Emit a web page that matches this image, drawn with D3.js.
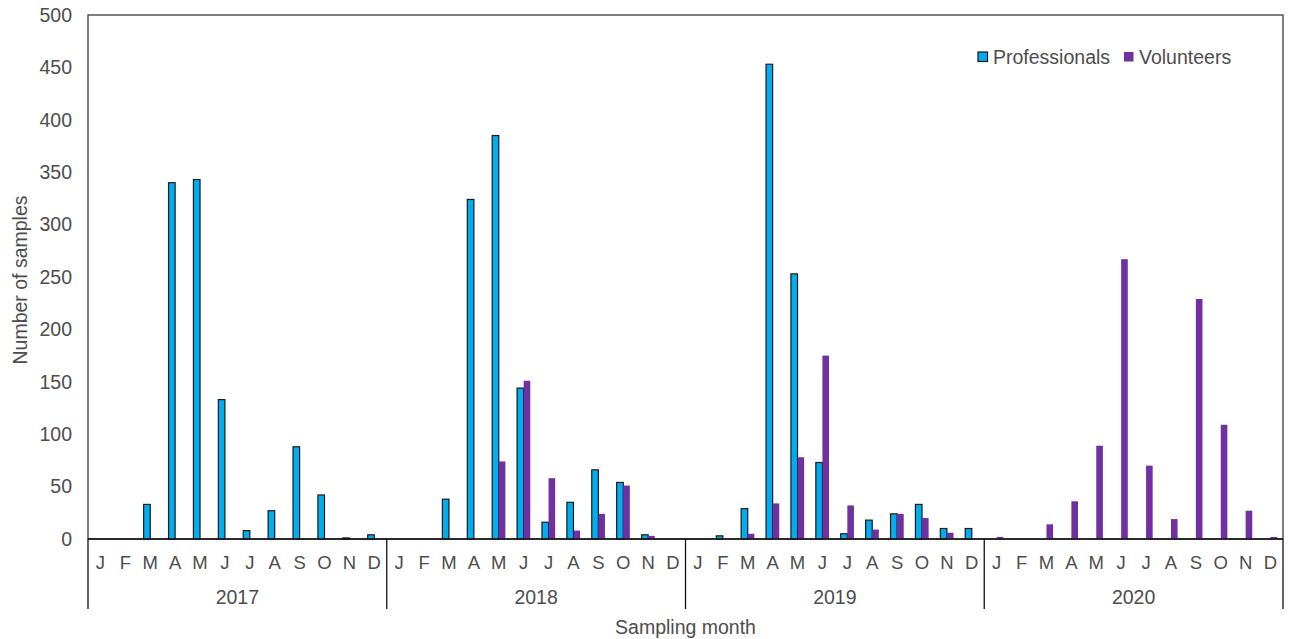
<!DOCTYPE html>
<html>
<head>
<meta charset="utf-8">
<script src="https://cdn.jsdelivr.net/npm/d3@7"></script>
<style>
  html, body { margin: 0; padding: 0; background: #fff; }
  svg text { font-family: "Liberation Sans", Arial, sans-serif; fill: #4d4d4d; }
</style>
</head>
<body>
<svg id="chart" width="1290" height="639"></svg>
<script>
const months = ["J","F","M","A","M","J","J","A","S","O","N","D"];
const years = ["2017","2018","2019","2020"];
const seriesNames = ["Professionals","Volunteers"];
const yTicks = [0,50,100,150,200,250,300,350,400,450,500];

const professionals = [
  0, 0, 33, 340, 343, 133, 8, 27, 88, 42, 1, 4,      // 2017
  0, 0, 38, 324, 385, 144, 16, 35, 66, 54, 4, 0,     // 2018
  0, 3, 29, 453, 253, 73, 5, 18, 24, 33, 10, 10,     // 2019
  0, 0, 0, 0, 0, 0, 0, 0, 0, 0, 0, 0                 // 2020
];
const volunteers = [
  0, 0, 0, 0, 0, 0, 0, 0, 0, 0, 0, 0,                // 2017
  0, 0, 0, 0, 74, 151, 58, 8, 24, 51, 3, 0,          // 2018
  0, 0, 5, 34, 78, 175, 32, 9, 24, 20, 6, 0,         // 2019
  2, 0, 14, 36, 89, 267, 70, 19, 229, 109, 27, 2     // 2020
];

const colors = { Professionals: "#00AEEF", Volunteers: "#7030A0" };

const svg = d3.select("#chart");
const m = { left: 88, right: 1283, top: 15, bottom: 539 };

const keys = [];
years.forEach(yr => months.forEach((mo, i) => keys.push(yr + "-" + i)));
const rows = keys.map((k, i) => ({
  key: k, month: months[i % 12],
  Professionals: professionals[i], Volunteers: volunteers[i]
}));

const x0 = d3.scaleBand().domain(keys).range([m.left, m.right])
  .paddingInner(0.47).paddingOuter(0.235);
const x1 = d3.scaleBand().domain(seriesNames).range([0, x0.bandwidth()]).padding(0);
const xYear = d3.scaleBand().domain(years).range([m.left, m.right]).padding(0);
const y = d3.scaleLinear().domain([0, 500]).range([m.bottom, m.top]);

// Plot frame
svg.append("rect")
  .attr("x", m.left).attr("y", m.top)
  .attr("width", m.right - m.left).attr("height", m.bottom - m.top)
  .attr("fill", "none").attr("stroke", "#3a3a3a").attr("stroke-width", 1.3);

// Y axis labels
const yAxis = svg.append("g").attr("transform", `translate(${m.left},0)`)
  .call(d3.axisLeft(y).tickValues(yTicks).tickSize(0).tickPadding(16));
yAxis.select(".domain").remove();
yAxis.selectAll("text").style("font-size", "19.5px").attr("fill", "#4d4d4d")
  .style("font-family", '"Liberation Sans", Arial, sans-serif');

// Bars
const groups = svg.append("g").selectAll("g").data(rows).join("g")
  .attr("transform", d => `translate(${x0(d.key)},0)`);
groups.selectAll("rect")
  .data(d => seriesNames.map(s => ({ s, v: d[s] })).filter(e => e.v > 0))
  .join("rect")
  .attr("x", e => x1(e.s))
  .attr("y", e => y(e.v))
  .attr("width", x1.bandwidth())
  .attr("height", e => y(0) - y(e.v))
  .attr("fill", e => colors[e.s])
  .attr("stroke", e => e.s === "Professionals" ? "#1a1a1a" : "none")
  .attr("stroke-width", 1.2);

// Bottom axis line
svg.append("line")
  .attr("x1", m.left).attr("x2", m.right)
  .attr("y1", m.bottom).attr("y2", m.bottom)
  .attr("stroke", "#111").attr("stroke-width", 1.4);

// Month labels via axis
const xAxis = svg.append("g").attr("transform", `translate(0,${m.bottom})`)
  .call(d3.axisBottom(x0).tickSize(0).tickPadding(17)
    .tickFormat(k => months[+k.split("-")[1]]));
xAxis.select(".domain").remove();
xAxis.selectAll("text").style("font-size", "18.5px").attr("fill", "#4d4d4d")
  .style("font-family", '"Liberation Sans", Arial, sans-serif');

// Year separators
const bounds = years.map(yr => xYear(yr)).concat([m.right]);
svg.append("g").selectAll("line").data(bounds).join("line")
  .attr("x1", d => d).attr("x2", d => d)
  .attr("y1", m.bottom).attr("y2", 609)
  .attr("stroke", "#111").attr("stroke-width", 1.3);

// Year labels
svg.append("g").selectAll("text").data(years).join("text")
  .attr("x", d => xYear(d) + xYear.bandwidth() / 2)
  .attr("y", 604)
  .attr("text-anchor", "middle")
  .style("font-size", "19.5px")
  .text(d => d);

// Axis titles
svg.append("text")
  .attr("x", (m.left + m.right) / 2).attr("y", 634)
  .attr("text-anchor", "middle").style("font-size", "19.5px")
  .text("Sampling month");
svg.append("text")
  .attr("transform", `translate(27,${(m.top + m.bottom) / 2 + 3}) rotate(-90)`)
  .attr("text-anchor", "middle").style("font-size", "19.5px")
  .text("Number of samples");

// Legend
const legend = svg.append("g");
const legendItems = [
  { name: "Professionals", x: 978 },
  { name: "Volunteers", x: 1124 }
];
legendItems.forEach(it => {
  legend.append("rect")
    .attr("x", it.x).attr("y", 52)
    .attr("width", 9.5).attr("height", 9.5)
    .attr("fill", colors[it.name])
    .attr("stroke", it.name === "Professionals" ? "#1a1a1a" : "none")
    .attr("stroke-width", 1.2);
  legend.append("text")
    .attr("x", it.x + 15).attr("y", 63.5)
    .style("font-size", "19.5px")
    .text(it.name);
});
</script>
</body>
</html>
